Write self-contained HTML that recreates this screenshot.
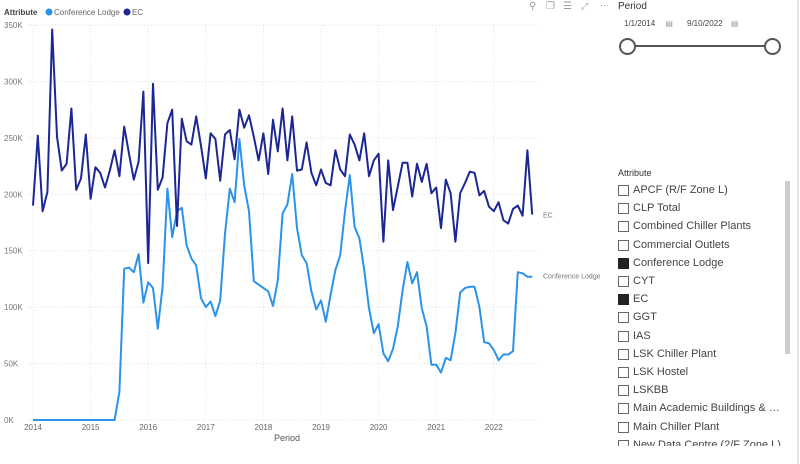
<!DOCTYPE html>
<html><head><meta charset="utf-8"><style>
body{margin:0;width:800px;height:464px;background:#fff;font-family:"Liberation Sans",sans-serif;overflow:hidden;position:relative}
.t{position:absolute;white-space:nowrap}
.item{position:absolute;left:618px;font-size:11px;color:#444;white-space:nowrap;width:166px;height:14px;overflow:hidden}
.cb{position:absolute;left:0;top:1px;width:9px;height:9px;border:1px solid #666;background:#fff}
.cb.on{background:#222;border-color:#222}
.item span{position:absolute;left:15px;top:0;white-space:nowrap;width:151px;overflow:hidden;text-overflow:ellipsis}
</style></head><body>
<svg id="chart" width="600" height="464" style="position:absolute;left:0;top:0"></svg>
<div class="t" style="left:529px;top:1px;font-size:10px;color:#999">⚲</div>
<div class="t" style="left:546px;top:1px;font-size:10px;color:#999">❐</div>
<div class="t" style="left:563px;top:1px;font-size:10px;color:#999">☰</div>
<div class="t" style="left:581px;top:1px;font-size:9px;color:#999">⤢</div>
<div class="t" style="left:600px;top:0px;font-size:9px;color:#999">···</div>
<div class="t" style="left:618px;top:1px;font-size:10px;color:#333">Period</div>
<div class="t" style="left:619px;top:16px;width:56px;height:16px;font-size:8px;color:#444;line-height:16px;padding-left:5px">1/1/2014 <span style="margin-left:8px;color:#999">▤</span></div>
<div class="t" style="left:682px;top:16px;width:56px;height:16px;font-size:8px;color:#444;line-height:16px;padding-left:5px">9/10/2022 <span style="margin-left:6px;color:#999">▤</span></div>
<div style="position:absolute;left:627px;top:45px;width:146px;height:2px;background:#555"></div>
<div style="position:absolute;left:619px;top:38px;width:13px;height:13px;border:2px solid #555;border-radius:50%;background:#fff"></div>
<div style="position:absolute;left:764px;top:38px;width:13px;height:13px;border:2px solid #555;border-radius:50%;background:#fff"></div>
<div class="t" style="left:618px;top:168px;font-size:9px;color:#333">Attribute</div>
<div style="position:absolute;left:785px;top:181px;width:5px;height:173px;background:#ccc"></div>
<div style="position:absolute;left:797px;top:0;width:2px;height:464px;background:#e6e6e6"></div>
<div id="items" style="position:absolute;left:0;top:0;width:800px;height:446px;overflow:hidden"></div>
<script>
const months = 105;
const ecValues = [190,252,185,202,346,251,221,227,276,204,214,253,196,224,219,206,221,239,216,260,236,213,229,291,139,298,204,215,263,275,172,267,247,244,269,243,214,254,249,212,253,257,231,275,259,270,251,230,254,218,266,238,276,230,269,221,222,246,219,208,222,210,208,239,222,216,253,244,230,254,216,230,236,158,230,186,207,228,228,198,227,211,227,201,206,170,213,201,158,201,210,220,219,199,203,189,185,193,177,174,187,190,181,239,182];
const lodgeValues = [0,0,0,0,0,0,0,0,0,0,0,0,0,0,0,0,0,0,25,134,135,131,147,104,122,117,81,118,205,162,185,188,155,143,137,108,100,105,92,106,165,205,193,249,208,185,123,120,117,114,101,124,183,191,218,170,146,139,114,98,106,87,111,133,146,185,217,171,161,133,99,77,85,59,52,63,83,115,140,121,131,99,83,49,49,42,55,53,77,113,117,118,118,100,69,68,62,53,58,58,61,131,130,127,127];
const yTicks = [0,50,100,150,200,250,300,350];
const yearLabels = ['2014','2015','2016','2017','2018','2019','2020','2021','2022'];
const NS='http://www.w3.org/2000/svg';
const svg=document.getElementById('chart');
const X0=33, DX=4.8, Y0=420, PY=395/350;
const xs=i=>X0+DX*i;
const ys=v=>Y0-v*PY;
function mk(tag,attrs,parent){const e=document.createElementNS(NS,tag);for(const k in attrs)e.setAttribute(k,attrs[k]);(parent||svg).appendChild(e);return e;}
yTicks.forEach(v=>{
  const g=mk('line',{x1:28,x2:541,y1:ys(v),y2:ys(v),stroke:'#ddd','stroke-dasharray':'1,2'});
  
  
  const t=mk('text',{x:4,y:ys(v)+3,'font-size':8,fill:'#777'});
  t.textContent=v+'K';
  
  
});
yearLabels.forEach((y,k)=>{
  const x=xs(k*12);
  const g=mk('line',{x1:x,x2:x,y1:25,y2:420,stroke:'#e4e4e4','stroke-dasharray':'1,2'});
  
  
  const t=mk('text',{x:x,y:430,'font-size':8,fill:'#666','text-anchor':'middle'});
  t.textContent=y;
  
  
});
function line(vals,color,name){
  const p=vals.map((v,i)=>(i?'L':'M')+xs(i).toFixed(1)+','+ys(v).toFixed(1)).join('');
  const e=mk('path',{d:p,fill:'none',stroke:color,'stroke-width':2,'stroke-linejoin':'round'});
  
  
}
line(lodgeValues,'#2b93ea','conference-lodge-line');
line(ecValues,'#1c2795','ec-line');
let t=mk('text',{x:543,y:ys(ecValues[months-1])+3,'font-size':7,fill:'#777'});t.textContent='EC';


t=mk('text',{x:543,y:ys(lodgeValues[months-1])+2,'font-size':7,fill:'#777'});t.textContent='Conference Lodge';


t=mk('text',{x:287,y:441,'font-size':9,fill:'#555','text-anchor':'middle'});t.textContent='Period';


t=mk('text',{x:4,y:15,'font-size':8,fill:'#444','font-weight':'bold'});t.textContent='Attribute';


let c=mk('circle',{cx:49,cy:12,r:3.5,fill:'#2b93ea'});


t=mk('text',{x:54,y:15,'font-size':8,fill:'#666'});t.textContent='Conference Lodge';


c=mk('circle',{cx:127,cy:12,r:3.5,fill:'#1c2795'});


t=mk('text',{x:132,y:15,'font-size':8,fill:'#666'});t.textContent='EC';



const attrs=['APCF (R/F Zone L)','CLP Total','Combined Chiller Plants','Commercial Outlets','Conference Lodge','CYT','EC','GGT','IAS','LSK Chiller Plant','LSK Hostel','LSKBB','Main Academic Buildings & Other...','Main Chiller Plant','New Data Centre (2/F Zone L)'];
const on=['Conference Lodge','EC'];
const box=document.getElementById('items');
attrs.forEach((a,i)=>{
  const d=document.createElement('div');
  d.className='item';
  d.style.top=(184+i*18.2)+'px';
  d.innerHTML='<div class="cb'+(on.includes(a)?' on':'')+'"></div><span>'+a.replace(/&/g,'&amp;')+'</span>';
  
  
  box.appendChild(d);
});
</script>
</body></html>
